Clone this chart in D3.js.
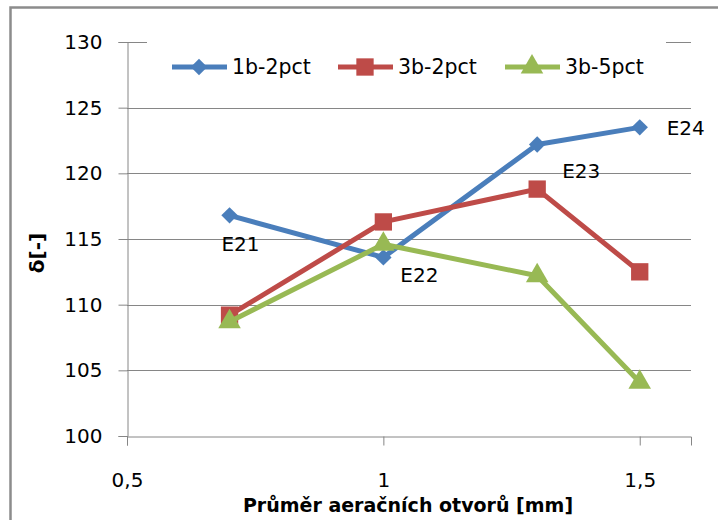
<!DOCTYPE html>
<html>
<head>
<meta charset="utf-8">
<script src="https://cdn.jsdelivr.net/npm/d3@7"></script>
<style>
  body { margin: 0; background: #fff; }
  text { font-family: "DejaVu Sans", sans-serif; fill: #000; }
</style>
</head>
<body>
<div id="chart"></div>
<script>
// data
var xValues = [0.7, 1, 1.3, 1.5];
var seriesNames = ["1b-2pct", "3b-2pct", "3b-5pct"];
var blueValues = [116.8, 113.6, 122.2, 123.5];
var redValues = [109.2, 116.3, 118.8, 112.5];
var greenValues = [108.7, 114.6, 112.2, 104.1];
var pointLabels = ["E21", "E22", "E23", "E24"];
var xTicks = [0.5, 1, 1.5];
var yTicks = [100, 105, 110, 115, 120, 125, 130];

var width = 718, height = 520;
var margin = { top: 42, right: 27, bottom: 84, left: 127 };

var svg = d3.select("#chart").append("svg")
  .attr("width", width)
  .attr("height", height);

// outer chart frame (only left and top are inside the picture)
svg.append("path")
  .attr("d", "M10.5," + height + "V7.5H" + width)
  .attr("fill", "none")
  .attr("stroke", "#8c8c8c")
  .attr("stroke-width", 2.5);

var x = d3.scaleLinear()
  .domain([0.5, 1.6])
  .range([margin.left, width - margin.right]);
var y = d3.scaleLinear()
  .domain([100, 130])
  .range([height - margin.bottom, margin.top]);

// horizontal gridlines
svg.append("g")
  .selectAll("line")
  .data(yTicks.slice(1))
  .enter()
  .append("line")
  .attr("x1", x(0.5))
  .attr("x2", x(1.6))
  .attr("y1", function (d) { return Math.round(y(d)) + 0.5; })
  .attr("y2", function (d) { return Math.round(y(d)) + 0.5; })
  .attr("stroke", "#868686")
  .attr("stroke-width", 1);

// y axis
var yAxis = svg.append("g")
  .attr("transform", "translate(" + (Math.round(x(0.5)) + 0.5) + ",0)")
  .call(d3.axisLeft(y).tickValues(yTicks).tickSize(9).tickPadding(16));
yAxis.selectAll("text").style("font-size", "20px");

// x axis
var xAxis = svg.append("g")
  .attr("transform", "translate(0," + (Math.round(y(100)) + 0.5) + ")")
  .call(d3.axisBottom(x).tickValues(xTicks).tickSize(9).tickPadding(27)
    .tickFormat(function (d) { return String(d).replace(".", ","); }));
xAxis.selectAll("text").style("font-size", "20px");

svg.selectAll(".domain, .tick line").attr("stroke", "#868686");

// legend background covers the top gridline
svg.append("rect")
  .attr("x", 147)
  .attr("y", 34)
  .attr("width", 519)
  .attr("height", 60)
  .attr("fill", "#fff");

var colors = ["#4a7ebb", "#be4b48", "#98b954"];
var allSeries = [blueValues, redValues, greenValues];
// diamond = square turned by 45 degrees
var markers = [d3.symbolSquare, d3.symbolSquare, d3.symbolTriangle];
var markerSizes = [135, 300, 220];
var markerTurn = [45, 0, 0];

var line = d3.line()
  .x(function (d, i) { return x(xValues[i]); })
  .y(function (d) { return y(d); });

allSeries.forEach(function (values, s) {
  svg.append("path")
    .datum(values)
    .attr("d", line)
    .attr("fill", "none")
    .attr("stroke", colors[s])
    .attr("stroke-width", 5)
    .attr("stroke-linejoin", "round");

  svg.selectAll(".marker-" + s)
    .data(values)
    .enter()
    .append("path")
    .attr("class", "marker-" + s)
    .attr("transform", function (d, i) {
      return "translate(" + x(xValues[i]) + "," + y(d) + ")rotate(" + markerTurn[s] + ")";
    })
    .attr("d", d3.symbol().type(markers[s]).size(markerSizes[s]))
    .attr("fill", colors[s]);
});

// point labels on the blue series
var labelOffsets = [[11, 36], [36, 25], [44, 34], [46, 8]];
svg.selectAll(".plabel")
  .data(blueValues)
  .enter()
  .append("text")
  .attr("class", "plabel")
  .attr("x", function (d, i) { return x(xValues[i]) + labelOffsets[i][0]; })
  .attr("y", function (d, i) { return y(d) + labelOffsets[i][1]; })
  .attr("text-anchor", "middle")
  .style("font-size", "20px")
  .text(function (d, i) { return pointLabels[i]; });

// legend
var legendX = [172, 338, 505];
seriesNames.forEach(function (name, s) {
  var g = svg.append("g").attr("transform", "translate(" + legendX[s] + ",67)");
  g.append("line")
    .attr("x1", 0).attr("x2", 55)
    .attr("stroke", colors[s])
    .attr("stroke-width", 5);
  g.append("path")
    .attr("transform", "translate(27,0)rotate(" + markerTurn[s] + ")")
    .attr("d", d3.symbol().type(markers[s]).size(markerSizes[s]))
    .attr("fill", colors[s]);
  g.append("text")
    .attr("x", 60)
    .attr("y", 7)
    .style("font-size", "20.5px")
    .text(name);
});

// axis titles
svg.append("text")
  .attr("x", 408)
  .attr("y", 512)
  .attr("text-anchor", "middle")
  .style("font-size", "19px")
  .style("font-weight", "bold")
  .text("Průměr aeračních otvorů [mm]");

svg.append("text")
  .attr("transform", "translate(44,253)rotate(-90)")
  .attr("text-anchor", "middle")
  .style("font-size", "20px")
  .style("font-weight", "bold")
  .text("δ[-]");
</script>
</body>
</html>
